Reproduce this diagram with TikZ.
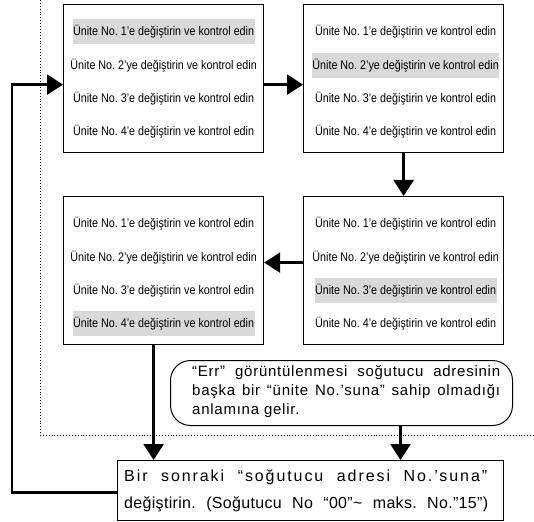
\documentclass[tikz,border=0pt]{standalone}
\usepackage{fontspec}
\setmainfont{Liberation Sans}[FakeStretch=0.86]
\newfontfamily\widefam{Liberation Sans}
\usetikzlibrary{arrows.meta,calc}
\frenchspacing
\newcommand\rowfont{\fontsize{12.5}{14}\selectfont}
\newcommand\midfont{\widefam\fontsize{15}{17}\selectfont}
\newcommand\bigfont{\widefam\fontsize{16}{18}\selectfont}
\newcommand\lsp[2]{{\addfontfeatures{LetterSpace=#1}#2}}
\begin{document}
\begin{tikzpicture}[x=1pt,y=-1pt,
  box/.style={draw, line width=1.2pt, minimum width=200pt, minimum height=148pt, inner sep=0pt, anchor=north west},
  row/.style={minimum width=182pt, minimum height=25pt, inner sep=0pt, font=\rowfont},
  hl/.style={row, fill=black!15},
  conn/.style={line width=2.5pt, -{Triangle[width=20pt,length=16pt]}},
  txt/.style={inner sep=0pt, anchor=west}
]
\useasboundingbox (0,0) rectangle (534,521);
% dotted region border
\coordinate (d1) at (40,0);
\coordinate (d2) at (40,435);
\coordinate (d3) at (534,435);
\draw[dotted, line width=0.9pt] (d1) -- (d2) -- (d3);

% boxes
\node[box] (A) at (63,4) {};
\node[box] (B) at (303,4) {};
\node[box] (C) at (303,196) {};
\node[box] (D) at (63,196) {};

% rows
\foreach \bx/\h/\dx in {A/1/0, B/2/2, C/3/2, D/4/0}{
  \foreach \i/\t in {1/{1’e}, 2/{2’ye}, 3/{3’e}, 4/{4’e}}{
    \ifnum\i=\h
      \node[hl] (\bx\i) at ($(\bx.north)+(\dx,28+33.3*\i-33.3)$) {Ünite No. \t{} değiştirin ve kontrol edin};
    \else
      \node[row] (\bx\i) at ($(\bx.north)+(\dx,28+33.3*\i-33.3)$) {Ünite No. \t{} değiştirin ve kontrol edin};
    \fi
  }
}

% callout
\node[draw, line width=1pt, rounded corners=20pt, minimum width=342pt, minimum height=65pt, inner sep=0pt, anchor=north west] (call) at (170,360) {};
\node[txt, font=\midfont] (c1) at (192,373) {\lsp{5}{\makebox[308pt][s]{“Err” görüntülenmesi soğutucu adresinin}}};
\node[txt, font=\midfont] (c2) at (192,392) {\lsp{5}{\makebox[308pt][s]{başka bir “ünite No.’suna” sahip olmadığı}}};
\node[txt, font=\midfont] (c3) at (192,411) {\lsp{5}{anlamına gelir.}};

% bottom box
\node[draw, line width=1.2pt, minimum width=386pt, minimum height=60pt, inner sep=0pt, anchor=north west] (bot) at (117,460) {};
\node[txt, font=\bigfont] (b1) at (124,477) {\lsp{12}{\makebox[363pt][s]{Bir sonraki “soğutucu adresi No.’suna”}}};
\node[txt, font=\bigfont] (b2) at (124,504) {\lsp{2}{\makebox[364pt][s]{değiştirin. (Soğutucu No “00”\string~ maks. No.”15”)}}};

% connectors
\coordinate (lp) at (12,300);
\draw[conn] ([yshift=-6pt]A.east) -- ([yshift=-6pt]B.west);
\draw[conn] (B.south) -- (C.north);
\draw[conn] ([yshift=8pt]C.west) -- ([yshift=8pt]D.east);
\draw[conn] ([xshift=-10pt]D.south) -- ([xshift=-10pt]D.south |- bot.north);
\draw[conn] ([xshift=400pt-341pt]call.south) -- ([xshift=400pt-341pt]call.south |- bot.north);
\draw[conn, line join=miter] ([yshift=-2pt]bot.west) -| (lp) |- ([yshift=-6pt]A.west);
\end{tikzpicture}
\end{document}
